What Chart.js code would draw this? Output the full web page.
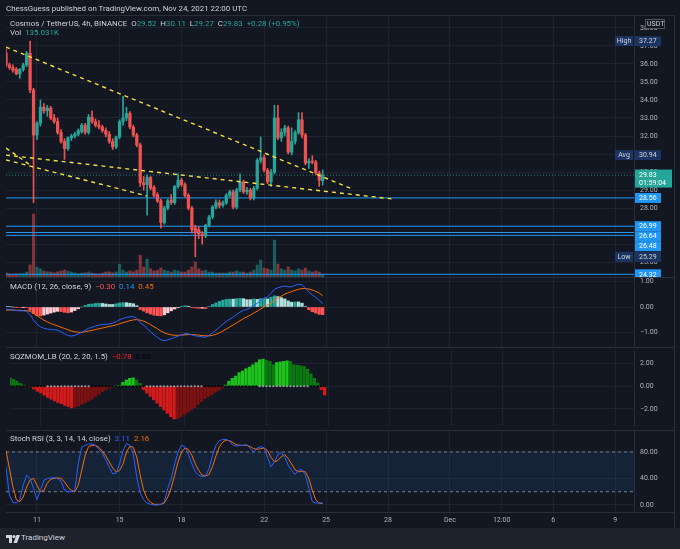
<!DOCTYPE html>
<html>
<head>
<meta charset="utf-8">
<title>Cosmos / TetherUS 4h</title>
<script src="https://cdn.jsdelivr.net/npm/chart.js@4.4.1/dist/chart.umd.min.js"></script>
<style>
  html, body { margin: 0; padding: 0; }
  body { width: 680px; height: 549px; overflow: hidden; background: #131722; position: relative;
         font-family: Roboto, "Noto Sans", sans-serif; color: #d1d4dc; }
  canvas { position: absolute; left: 6px; }
  .txt { position: absolute; white-space: nowrap; font-size: 7.9px; line-height: 10px; z-index: 2; }
  .hl { position: absolute; left: 6px; width: 668px; height: 1px; background: #2a2e39; z-index: 1; }
  .vl { position: absolute; top: 15px; width: 1px; height: 513px; background: #2a2e39; z-index: 1; }
  #footer { position: absolute; left: 0; top: 528px; width: 680px; height: 21px; background: #1e222d; }
  #footer span { position: absolute; left: 21px; top: 5px; font-size: 8px; color: #d1d4dc; }
  #footer svg { position: absolute; left: 6px; top: 7px; }
</style>
</head>
<body>
<div class="txt" style="left:6px;top:4px;">ChessGuess published on TradingView.com, Nov 24, 2021 22:00 UTC</div>

<canvas id="cPrice" width="668" height="262" style="top:15px"></canvas>
<canvas id="cMacd" width="668" height="70" style="top:277px"></canvas>
<canvas id="cSqz" width="668" height="83" style="top:347px"></canvas>
<canvas id="cStoch" width="668" height="98" style="top:430px"></canvas>

<div class="hl" style="top:15px"></div>
<div class="hl" style="top:277px"></div>
<div class="hl" style="top:347px"></div>
<div class="hl" style="top:430px"></div>
<div class="hl" style="top:512px"></div>
<div class="vl" style="left:674px"></div>

<div class="txt" id="legPrice" style="left:10px;top:19px"></div>
<div class="txt" id="legVol" style="left:10px;top:28px"></div>
<div class="txt" id="legMacd" style="left:10px;top:282px"></div>
<div class="txt" id="legSqz" style="left:10px;top:352px"></div>
<div class="txt" id="legStoch" style="left:10px;top:434px"></div>

<div id="footer">
  <svg width="14" height="8" viewBox="0 0 14 8"><path d="M0 0h6v8h-3v-5h-3z" fill="#d1d4dc"/><circle cx="8" cy="1.6" r="1.6" fill="#d1d4dc"/><path d="M10.5 0h3.5l-3 8h-3.5z" fill="#d1d4dc"/></svg>
  <span>TradingView</span>
</div>

<script>
// ATOM/USDT 4h candles, Nov 9 12:00 -> Nov 24 20:00
const open = [
  36.60,35.95,35.80,35.70,35.45,35.70,35.95,36.60,34.55,32.05,
  32.70,33.60,33.40,33.55,33.00,32.80,32.20,31.70,31.30,31.90,
  32.00,32.10,32.25,32.60,32.20,33.05,32.80,32.60,32.50,32.30,
  32.10,31.70,31.40,31.95,32.80,33.00,33.25,32.50,32.05,31.50,
  29.40,29.30,29.70,29.15,28.75,28.40,27.20,28.00,28.45,28.30,
  29.20,29.55,29.30,28.70,28.00,26.90,26.80,26.55,26.45,27.05,
  27.50,28.05,28.30,28.15,28.30,28.70,28.90,28.05,29.00,29.45,
  28.90,29.00,28.55,29.10,30.65,30.80,30.10,29.45,30.00,33.00,
  31.90,32.20,32.45,31.10,31.70,32.20,32.90,32.05,30.50,30.60,
  30.55,29.95,29.52
];
const high = [
  36.85,36.05,35.95,35.80,35.75,36.05,36.70,37.27,34.65,32.80,
  34.00,33.80,33.70,33.65,33.20,33.00,32.35,31.85,31.95,32.10,
  32.20,32.40,32.70,32.70,33.20,33.40,32.95,32.85,32.60,32.45,
  32.25,31.85,32.00,32.90,34.20,33.60,33.35,32.60,32.15,31.60,
  29.75,29.85,29.75,29.25,28.85,28.50,28.10,28.50,28.75,29.25,
  29.90,29.65,29.40,28.80,28.10,27.05,26.95,26.70,27.10,27.60,
  28.15,28.45,28.45,28.40,28.80,29.00,29.00,29.10,29.90,29.55,
  29.15,29.10,29.20,30.75,31.95,30.95,30.20,30.15,33.70,33.70,
  32.40,32.60,32.55,32.45,32.30,33.30,33.30,32.15,30.75,30.90,
  30.65,30.05,30.11
];
const low = [
  35.85,35.70,35.55,35.40,35.20,35.60,35.85,34.40,28.30,31.80,
  32.55,33.25,33.10,32.90,32.70,32.10,31.60,30.70,31.20,31.75,
  31.90,32.00,32.15,32.10,32.10,32.70,32.50,32.40,32.20,31.95,
  31.60,31.25,31.30,31.85,32.60,32.85,32.40,31.95,31.40,29.20,
  29.00,27.60,29.00,28.60,28.30,26.90,27.10,27.90,28.20,28.20,
  29.10,29.20,28.60,27.90,26.60,25.29,26.30,26.00,26.35,26.95,
  27.40,27.95,28.00,28.05,28.20,28.60,27.95,27.95,28.90,28.80,
  28.75,28.45,28.45,29.00,30.50,30.00,29.35,29.20,29.90,31.80,
  31.70,32.00,31.00,30.95,31.55,32.10,31.90,30.40,30.20,30.45,
  29.85,29.20,29.27
];
const close = [
  35.95,35.80,35.65,35.45,35.70,35.95,36.60,34.55,32.05,32.70,
  33.60,33.40,33.55,33.00,32.80,32.20,31.70,31.30,31.90,32.00,
  32.10,32.30,32.60,32.20,33.05,32.80,32.60,32.50,32.30,32.10,
  31.70,31.40,31.95,32.80,33.00,33.25,32.50,32.05,31.50,29.40,
  29.30,29.70,29.10,28.70,28.40,27.20,28.00,28.40,28.30,29.20,
  29.55,29.30,28.70,28.00,26.80,26.70,26.55,26.45,27.05,27.50,
  28.05,28.30,28.15,28.30,28.70,28.90,28.05,29.00,29.45,28.90,
  29.00,28.55,29.10,30.65,30.80,30.10,29.45,30.00,33.00,31.90,
  32.20,32.45,31.10,31.70,32.20,32.90,32.05,30.50,30.60,30.55,
  29.95,29.55,29.83
];
// volume in thousands
const volume = [
  195,150,140,155,160,150,240,580,3020,480,
  390,290,250,240,200,250,290,330,280,240,
  200,150,190,200,240,190,150,150,190,240,
  250,200,240,620,330,240,290,250,330,1050,
  480,860,390,290,330,430,330,290,240,330,
  290,240,240,330,480,720,390,290,330,240,
  240,190,190,190,190,240,240,290,240,240,
  190,240,330,580,810,430,390,330,1770,620,
  390,330,480,330,290,390,330,430,290,240,
  290,240,135.031
];
const macd = [
  -0.09,-0.10,-0.12,-0.14,-0.15,-0.15,-0.17,-0.30,-0.51,-0.68,
  -0.78,-0.84,-0.87,-0.89,-0.90,-0.92,-0.98,-1.06,-1.13,-1.15,
  -1.12,-1.07,-1.00,-0.92,-0.84,-0.80,-0.75,-0.71,-0.69,-0.68,
  -0.67,-0.64,-0.58,-0.50,-0.45,-0.41,-0.39,-0.38,-0.45,-0.62,
  -0.72,-0.85,-0.98,-1.10,-1.20,-1.30,-1.33,-1.30,-1.25,-1.20,
  -1.15,-1.10,-1.05,-1.06,-1.10,-1.14,-1.16,-1.18,-1.20,-1.12,
  -1.02,-0.92,-0.80,-0.68,-0.57,-0.48,-0.40,-0.30,-0.20,-0.13,
  -0.10,-0.03,0.08,0.14,0.25,0.35,0.40,0.55,0.70,0.76,
  0.80,0.83,0.80,0.80,0.86,0.90,0.88,0.75,0.60,0.48,
  0.38,0.26,0.14
];
const signal = [
  -0.12,-0.12,-0.12,-0.13,-0.13,-0.14,-0.14,-0.17,-0.25,-0.34,
  -0.43,-0.52,-0.59,-0.65,-0.70,-0.75,-0.80,-0.85,-0.90,-0.95,
  -0.98,-1.00,-1.00,-0.98,-0.95,-0.92,-0.89,-0.86,-0.83,-0.80,
  -0.77,-0.74,-0.71,-0.66,-0.62,-0.58,-0.54,-0.51,-0.50,-0.52,
  -0.56,-0.62,-0.70,-0.78,-0.86,-0.95,-1.02,-1.07,-1.10,-1.12,
  -1.12,-1.11,-1.10,-1.09,-1.09,-1.10,-1.11,-1.13,-1.14,-1.14,
  -1.12,-1.08,-1.02,-0.95,-0.87,-0.79,-0.71,-0.63,-0.54,-0.46,
  -0.39,-0.32,-0.24,-0.16,-0.08,0.01,0.08,0.16,0.26,0.35,
  0.43,0.51,0.56,0.61,0.66,0.70,0.73,0.73,0.71,0.67,
  0.62,0.55,0.45
];
const macdHist = [
  0.03,0.02,0.00,-0.01,-0.02,-0.01,-0.03,-0.13,-0.26,-0.34,
  -0.35,-0.32,-0.28,-0.24,-0.20,-0.17,-0.18,-0.21,-0.23,-0.20,
  -0.14,-0.07,0.00,0.06,0.11,0.12,0.14,0.15,0.14,0.12,
  0.10,0.10,0.13,0.16,0.17,0.17,0.15,0.13,0.05,-0.10,
  -0.16,-0.23,-0.28,-0.32,-0.34,-0.35,-0.31,-0.23,-0.15,-0.08,
  -0.03,0.01,0.05,0.03,-0.01,-0.04,-0.05,-0.05,-0.06,0.02,
  0.10,0.16,0.22,0.27,0.30,0.31,0.31,0.33,0.34,0.33,
  0.29,0.29,0.32,0.30,0.33,0.34,0.32,0.39,0.44,0.41,
  0.37,0.32,0.24,0.19,0.20,0.20,0.15,0.02,-0.11,-0.19,
  -0.24,-0.29,-0.30
];
const sqzMom = [
  0.75,0.60,0.45,0.25,0.10,0.00,-0.05,-0.25,-0.45,-0.60,
  -0.80,-1.00,-1.15,-1.30,-1.45,-1.55,-1.70,-1.80,-1.92,-1.85,
  -1.75,-1.60,-1.45,-1.30,-1.15,-0.90,-0.70,-0.45,-0.30,-0.15,
  -0.05,0.02,0.05,0.35,0.55,0.70,0.75,0.55,0.25,-0.30,
  -0.60,-0.90,-1.20,-1.50,-1.80,-2.10,-2.40,-2.70,-2.90,-2.85,
  -2.70,-2.50,-2.30,-2.10,-1.90,-1.60,-1.35,-1.10,-0.90,-0.75,
  -0.55,-0.35,-0.15,0.10,0.45,0.70,0.90,1.20,1.35,1.55,
  1.70,1.90,2.10,2.35,2.40,2.30,2.20,1.90,2.10,2.15,
  2.20,2.25,2.20,1.90,1.85,1.80,1.75,1.50,1.10,0.70,
  0.30,-0.30,-0.78
];
// 1 = squeeze released (grey dot), 0 = squeeze on (black dot)
const sqzOff = [
  0,0,0,0,0,0,0,0,0,0,
  0,1,1,1,1,1,1,1,1,1,
  1,1,1,1,0,0,0,0,0,0,
  0,0,0,0,0,0,0,0,0,0,
  1,1,1,1,1,1,1,1,1,1,
  1,1,1,1,1,1,1,0,0,0,
  0,0,0,0,0,0,0,0,0,0,
  0,0,0,1,1,1,1,1,1,1,
  1,1,1,1,1,1,1,1,0,0,
  0,0,0
];
const stochK = [
  57,15,4,3,8,30,45,40,25,8,
  22,37,40,41,41,40,36,22,20,20,
  22,63,87,90,92,92,90,84,78,68,
  57,47,48,62,82,93,90,76,42,18,
  8,3,1,0,0,1,5,25,40,62,
  80,90,88,76,62,50,45,43,44,55,
  75,90,97,99,99,96,90,89,90,90,
  91,85,80,86,88,86,72,58,65,76,
  79,72,60,52,46,53,53,45,25,5,
  3,3,3.11
];
const stochD = [
  82,55,28,8,5,12,27,38,40,30,
  20,22,33,39,40,41,40,35,27,22,
  20,30,52,75,88,90,90,87,81,74,
  65,56,50,52,62,80,89,87,72,45,
  22,10,4,1,1,1,3,12,26,45,
  65,80,86,84,75,62,52,45,44,46,
  58,74,88,95,98,97,94,91,90,90,
  90,88,85,84,85,86,82,72,65,67,
  73,76,70,62,53,50,51,50,40,22,
  8,3,2.16
];

// drawn lines: [day, price] end points (day = day of Nov, fractional)
const trendA = [[9.50, 36.94], [26.16, 29.11]];
const trendB = [[9.50, 30.94], [28.24, 28.50]];
const trendC = [[9.50, 30.67], [16.33, 28.67]];
const trendD = [[9.50, 31.33], [10.81, 30.28]];
const levelValues = [28.56, 26.99, 26.64, 26.48, 24.32];
const statNames = ['High', 'Avg', 'Low'];
const statValues = [37.27, 30.94, 25.29];
const countdown = '01:59:04';

const timeTicks = [11, 15, 18, 22, 25, 28, 31, 33.5, 36, 39];
const timeTickLabels = ['11', '15', '18', '22', '25', '28', 'Dec', '12:00', '6', '9'];
const priceTicks = [25, 26, 27, 28, 29, 30, 31, 32, 33, 34, 35, 36, 37, 38];
const macdTicks = [1, 0, -1];
const sqzTicks = [2, 0, -2];
const stochTicks = [80, 40, 0];
const stochBands = [80, 20];

const START = 9.5, STEP = 1 / 6;      // first candle Nov 9 12:00, 4h bars
const X_MIN = 9.5, X_MAX = 39.91;

const UP = '#26a69a', DOWN = '#ef5350';
const GRID = 'rgba(42,46,57,0.55)', LINE = '#2a2e39', AXIS_TEXT = '#b2b5be';
const NAVY = '#1c3461', BLUE = '#2196f3', YELLOW = '#f5e13b';

Chart.defaults.font.family = 'Roboto, "Noto Sans", sans-serif';
Chart.defaults.color = AXIS_TEXT;

const t = close.map((_, i) => START + i * STEP);
const candleColor = close.map((c, i) => (c >= open[i] ? UP : DOWN));
const volColor = close.map((c, i) => (c >= open[i] ? 'rgba(38,166,154,0.5)' : 'rgba(239,83,80,0.5)'));

const fmt = v => (v < 0 ? '\u2212' : '') + Math.abs(v).toFixed(2);

function timeAxis(withLabels) {
  return {
    type: 'linear', min: X_MIN, max: X_MAX, offset: false,
    afterBuildTicks: s => { s.ticks = timeTicks.map(v => ({ value: v })); },
    afterFit: s => { s.height = withLabels ? 16 : 0; s.paddingLeft = 0; s.paddingRight = 0; },
    ticks: { display: withLabels, autoSkip: false, maxRotation: 0, padding: 4, color: AXIS_TEXT,
             font: { size: 7 }, callback: (v, i) => timeTickLabels[i] },
    grid: { color: GRID, drawTicks: false, offset: false },
    border: { display: false }
  };
}

function valueAxis(min, max, tickValues) {
  return {
    type: 'linear', position: 'right', min, max,
    afterBuildTicks: s => { s.ticks = tickValues.map(v => ({ value: v })); },
    afterFit: s => { s.width = 40; s.paddingTop = 0; s.paddingBottom = 0; },
    ticks: { color: AXIS_TEXT, font: { size: 7 }, padding: 6, callback: v => fmt(v) },
    grid: { color: GRID, drawTicks: false },
    border: { color: LINE }
  };
}

const baseOptions = {
  responsive: false,
  animation: false,
  layout: { padding: 0 },
  plugins: { legend: { display: false }, tooltip: { enabled: false } }
};

function seg(points, color, dash, width) {
  return { type: 'line', data: points.map(p => ({ x: p[0], y: p[1] })), borderColor: color,
           borderWidth: width, borderDash: dash, pointRadius: 0, fill: false };
}

// price axis tags (High / Avg / Low, levels, last price)
const tagPlugin = {
  id: 'tags',
  afterDraw(chart) {
    const { ctx, chartArea } = chart;
    const y = chart.scales.y;
    const xr = chartArea.right;
    ctx.save();
    ctx.font = '7px Roboto';
    ctx.textBaseline = 'middle';
    ctx.textAlign = 'left';

    ctx.fillStyle = '#131722';
    ctx.fillRect(xr + 11, 4, 20, 10);
    ctx.strokeStyle = '#50535e';
    ctx.strokeRect(xr + 11.5, 4.5, 19, 9);
    ctx.fillStyle = '#d1d4dc';
    ctx.fillText('USDT', xr + 13, 9.5);

    const lastClose = close[close.length - 1];
    const tags = [];
    statValues.forEach((v, k) => tags.push({ v, bg: NAVY, fg: '#d1d4dc', side: statNames[k], h: 10 }));
    levelValues.forEach(v => tags.push({ v, bg: BLUE, fg: '#ffffff', h: 10 }));
    tags.push({ v: lastClose, bg: UP, fg: '#ffffff', h: 18, w: 37, sub: countdown });
    tags.forEach(tg => {
      const py = y.getPixelForValue(tg.v);
      tg.top = tg.sub ? py - 5.5 : py - tg.h / 2;
    });
    tags.sort((a, b) => a.top - b.top);
    let bottom = -1e9;
    tags.forEach(tg => { if (tg.top < bottom) tg.top = bottom; bottom = tg.top + tg.h; });

    tags.forEach(tg => {
      ctx.fillStyle = tg.bg;
      ctx.fillRect(xr + 1, tg.top, tg.w || 26, tg.h);
      ctx.fillStyle = tg.fg;
      ctx.fillText(tg.v.toFixed(2), xr + 5, tg.top + 5.5);
      if (tg.sub) ctx.fillText(tg.sub, xr + 5, tg.top + 13.5);
      if (tg.side) {
        ctx.fillStyle = tg.bg;
        ctx.fillRect(xr - 19, tg.top, 18, tg.h);
        ctx.fillStyle = tg.fg;
        ctx.textAlign = 'center';
        ctx.fillText(tg.side, xr - 10, tg.top + 5.5);
        ctx.textAlign = 'left';
      }
    });
    ctx.restore();
  }
};

// price pane
new Chart(document.getElementById('cPrice'), {
  type: 'bar',
  data: {
    datasets: [
      seg(trendA, YELLOW, [4, 4], 1.4),
      seg(trendB, YELLOW, [4, 4], 1.4),
      seg(trendC, YELLOW, [4, 4], 1.4),
      seg(trendD, YELLOW, [4, 4], 1.4),
      { type: 'bar', data: t.map((x, i) => ({ x, y: [open[i], close[i]] })), backgroundColor: candleColor,
        barThickness: 2.6, grouped: false, minBarLength: 1, order: 1 },
      { type: 'bar', data: t.map((x, i) => ({ x, y: [low[i], high[i]] })), backgroundColor: candleColor,
        barThickness: 1, grouped: false, order: 2 },
      Object.assign(seg([[X_MIN, close[close.length - 1]], [X_MAX, close[close.length - 1]]],
        'rgba(38,166,154,0.8)', [1, 2], 1), { order: 3 }),
      ...levelValues.map(v => Object.assign(seg([[X_MIN, v], [X_MAX, v]], BLUE, [], 1), { order: 4 })),
      { type: 'bar', yAxisID: 'yVol', data: t.map((x, i) => ({ x, y: volume[i] })), backgroundColor: volColor,
        barThickness: 2.4, grouped: false, order: 5 }
    ]
  },
  options: Object.assign({}, baseOptions, {
    scales: {
      x: timeAxis(false),
      y: valueAxis(24.17, 38.72, priceTicks),
      yVol: { type: 'linear', display: false, min: 0, max: 12560 }
    }
  }),
  plugins: [tagPlugin]
});

// MACD pane
const histColor = macdHist.map((h, i) => {
  const prev = i > 0 ? macdHist[i - 1] : h;
  if (h >= 0) return h > prev ? '#26a69a' : '#b2dfdb';
  return h < prev ? '#ff5252' : '#ffcdd2';
});
new Chart(document.getElementById('cMacd'), {
  type: 'bar',
  data: {
    datasets: [
      { type: 'line', data: t.map((x, i) => ({ x, y: macd[i] })), borderColor: '#2962ff', borderWidth: 1,
        pointRadius: 0, order: 1 },
      { type: 'line', data: t.map((x, i) => ({ x, y: signal[i] })), borderColor: '#ff6d00', borderWidth: 1,
        pointRadius: 0, order: 2 },
      { type: 'bar', data: t.map((x, i) => ({ x, y: macdHist[i] })), backgroundColor: histColor,
        barThickness: 2.6, grouped: false, order: 3 }
    ]
  },
  options: Object.assign({}, baseOptions, {
    scales: { x: timeAxis(false), y: valueAxis(-1.581, 1.186, macdTicks) }
  })
});

// Squeeze momentum pane
const sqzColor = sqzMom.map((v, i) => {
  const prev = i > 0 ? sqzMom[i - 1] : v;
  if (v > 0) return v > prev ? '#1ec41e' : '#0b7a10';
  return v < prev ? '#d41a1a' : '#7d1111';
});
new Chart(document.getElementById('cSqz'), {
  type: 'bar',
  data: {
    datasets: [
      { type: 'line', data: t.map(x => ({ x, y: 0 })), showLine: false, pointRadius: 1.1, pointBorderWidth: 0,
        pointBackgroundColor: sqzOff.map(s => (s ? '#9598a1' : '#000000')), order: 1 },
      { type: 'bar', data: t.map((x, i) => ({ x, y: sqzMom[i] })), backgroundColor: sqzColor,
        barThickness: 2.6, grouped: false, order: 2 }
    ]
  },
  options: Object.assign({}, baseOptions, {
    scales: { x: timeAxis(false), y: valueAxis(-3.52, 3.12, sqzTicks) }
  })
});

// Stoch RSI pane with time axis
new Chart(document.getElementById('cStoch'), {
  type: 'line',
  data: {
    datasets: [
      { data: t.map((x, i) => ({ x, y: stochK[i] })), borderColor: '#2962ff', borderWidth: 1, pointRadius: 0 },
      { data: t.map((x, i) => ({ x, y: stochD[i] })), borderColor: '#ff6d00', borderWidth: 1, pointRadius: 0 },
      seg([[X_MIN, stochBands[0]], [X_MAX, stochBands[0]]], '#787b86', [3, 3], 1),
      Object.assign(seg([[X_MIN, stochBands[1]], [X_MAX, stochBands[1]]], '#787b86', [3, 3], 1),
        { fill: '-1', backgroundColor: 'rgba(33,150,243,0.1)' })
    ]
  },
  options: Object.assign({}, baseOptions, {
    scales: { x: timeAxis(true), y: valueAxis(-10.57, 113.2, stochTicks) }
  })
});

// legends
const n = close.length - 1;
const chg = close[n] - close[n - 1];
const pct = chg / close[n - 1] * 100;
const sign = v => (v >= 0 ? '+' : '\u2212');
const tc = close[n] >= open[n] ? UP : DOWN;
const val = (txt, c) => '<span style="color:' + c + '">' + txt + '</span>';
document.getElementById('legPrice').innerHTML =
  'Cosmos / TetherUS, 4h, BINANCE&nbsp; O' + val(open[n].toFixed(2), tc) +
  '&nbsp; H' + val(high[n].toFixed(2), tc) + '&nbsp; L' + val(low[n].toFixed(2), tc) +
  '&nbsp; C' + val(close[n].toFixed(2), tc) + '&nbsp; ' +
  val(sign(chg) + Math.abs(chg).toFixed(2) + ' (' + sign(pct) + Math.abs(pct).toFixed(2) + '%)', tc);
document.getElementById('legVol').innerHTML = 'Vol&nbsp; ' + val(volume[n].toFixed(3) + 'K', tc);
document.getElementById('legMacd').innerHTML = 'MACD (12, 26, close, 9)&nbsp; ' +
  val(fmt(macdHist[n]), '#ff5252') + '&nbsp; ' + val(fmt(macd[n]), '#2196f3') + '&nbsp; ' + val(fmt(signal[n]), '#ff6d00');
document.getElementById('legSqz').innerHTML = 'SQZMOM_LB (20, 2, 20, 1.5)&nbsp; ' +
  val(fmt(sqzMom[n]), '#ff2020') + '&nbsp; ' + val('0.00', '#000000');
document.getElementById('legStoch').innerHTML = 'Stoch RSI (3, 3, 14, 14, close)&nbsp; ' +
  val(stochK[n].toFixed(2), '#2962ff') + '&nbsp; ' + val(stochD[n].toFixed(2), '#ff6d00');
</script>
</body>
</html>
